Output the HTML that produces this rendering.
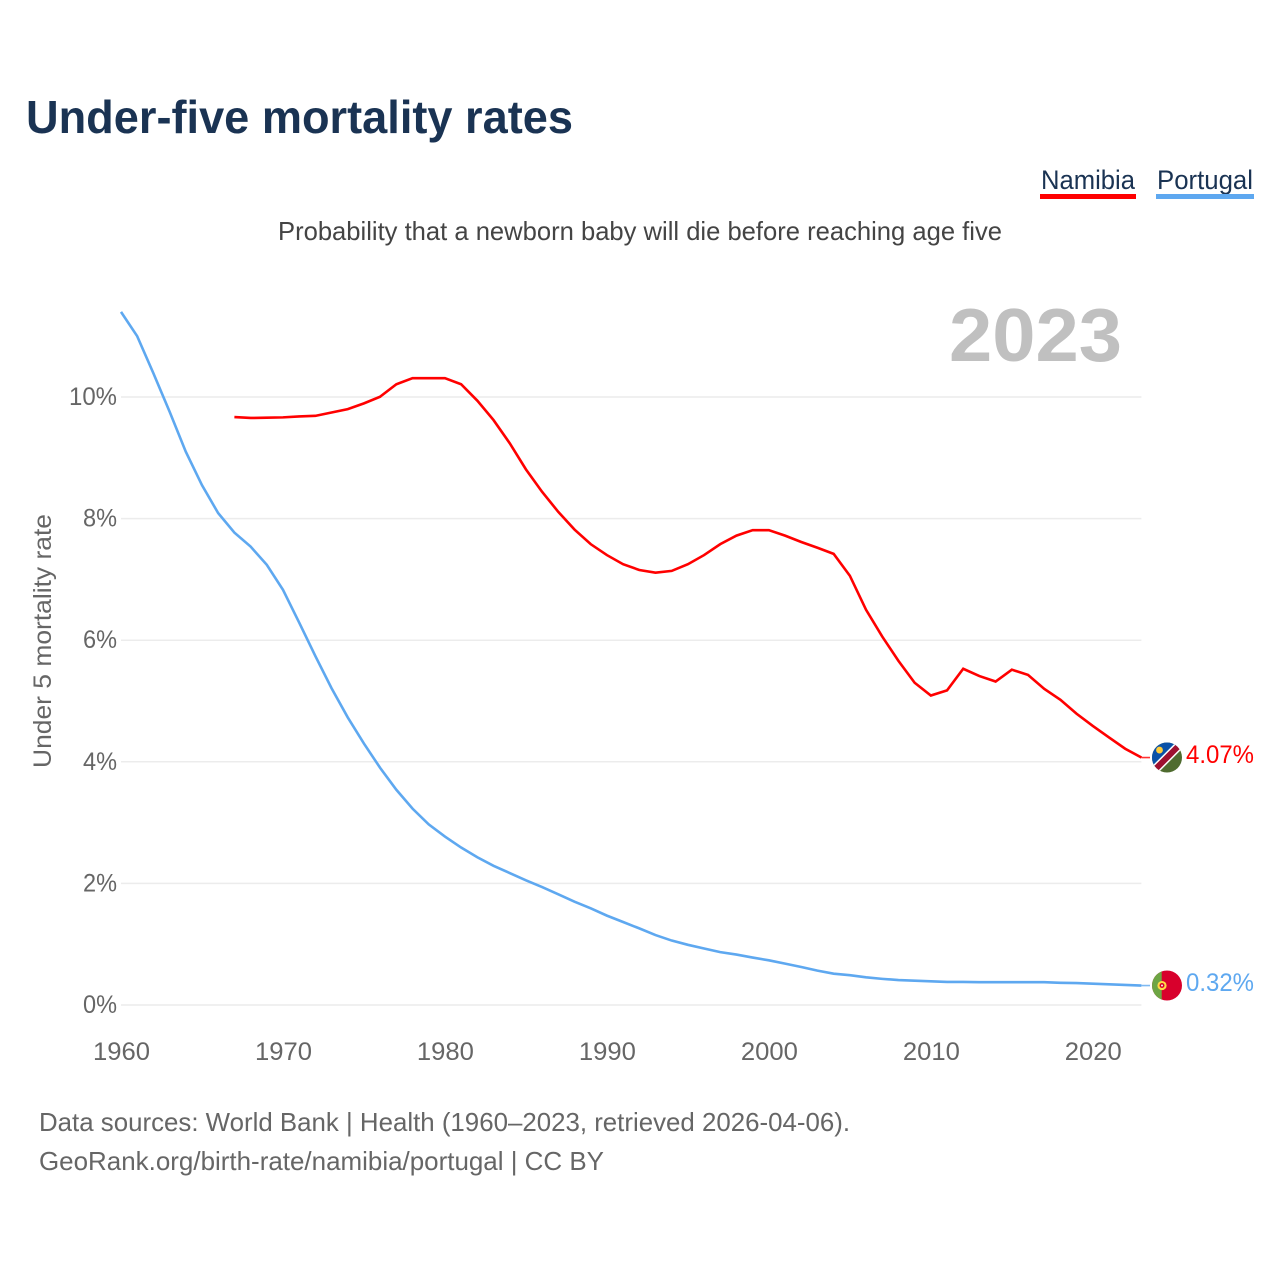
<!DOCTYPE html>
<html lang="en">
<head>
<meta charset="utf-8">
<title>Under-five mortality rates</title>
<style>
html,body{margin:0;padding:0;background:#fff;width:1280px;height:1280px;overflow:hidden}
svg{display:block;font-family:"Liberation Sans",sans-serif}
</style>
</head>
<body>
<svg id="chart" xmlns="http://www.w3.org/2000/svg" width="1280" height="1280" viewBox="0 0 1280 1280">
  <defs>
    <clipPath id="flag-clip"><circle cx="0" cy="0" r="15"/></clipPath>
  </defs>
  <text x="26" y="133" font-size="46" font-weight="700" fill="#1a3353" textLength="547" lengthAdjust="spacingAndGlyphs">Under-five mortality rates</text>

  <g>
    <g>
      <text x="1041" y="189" font-size="27" fill="#1a3353" textLength="94" lengthAdjust="spacingAndGlyphs">Namibia</text>
      <rect x="1040" y="194" width="96" height="5" fill="#ff0000"/>
    </g>
    <g>
      <text x="1157" y="189" font-size="27" fill="#1a3353" textLength="96" lengthAdjust="spacingAndGlyphs">Portugal</text>
      <rect x="1156" y="194" width="98" height="5" fill="#5ea8f0"/>
    </g>
  </g>

  <text x="278" y="240" font-size="26" fill="#444444" textLength="724" lengthAdjust="spacingAndGlyphs">Probability that a newborn baby will die before reaching age five</text>
  <text x="949" y="361" font-size="75" font-weight="700" fill="#c0c0c0" textLength="173" lengthAdjust="spacingAndGlyphs">2023</text>
  <text transform="translate(51 768) rotate(-90)" x="0" y="0" font-size="25" fill="#666666" textLength="254" lengthAdjust="spacingAndGlyphs">Under 5 mortality rate</text>

  <g id="grid"></g>
  <g id="yticks"></g>
  <g id="xticks"></g>
  <g id="series"></g>

  <g id="flag-namibia">
    <g clip-path="url(#flag-clip)">
      <rect x="-15" y="-15" width="30" height="30" fill="#4f6b2f"/>
      <polygon points="-16,-16 16,-16 -16,16" fill="#0a52a8"/>
      <line x1="-15" y1="15" x2="15" y2="-15" stroke="#ffffff" stroke-width="9"/>
      <line x1="-15" y1="15" x2="15" y2="-15" stroke="#9e1030" stroke-width="6"/>
      <circle cx="-7.5" cy="-7.5" r="3.4" fill="#ffcd3c"/>
    </g>
  </g>
  <g id="flag-portugal">
    <g clip-path="url(#flag-clip)">
      <rect x="-15" y="-15" width="30" height="30" fill="#d8002c"/>
      <rect x="-15" y="-15" width="9.7" height="30" fill="#6da544"/>
      <circle cx="-5" cy="0" r="4.6" fill="#ffda44"/>
      <circle cx="-5" cy="0" r="2.5" fill="#d8002c"/>
      <circle cx="-5" cy="0" r="1" fill="#f0f0f0"/>
    </g>
  </g>
  <g id="value-labels"></g>

  <g>
    <text x="39" y="1131" font-size="26" fill="#666666" textLength="811" lengthAdjust="spacingAndGlyphs">Data sources: World Bank | Health (1960–2023, retrieved 2026-04-06).</text>
    <text x="39" y="1170" font-size="26" fill="#666666" textLength="565" lengthAdjust="spacingAndGlyphs">GeoRank.org/birth-rate/namibia/portugal | CC BY</text>
  </g>
</svg>

<script>
const years = [1960,1961,1962,1963,1964,1965,1966,1967,1968,1969,1970,1971,1972,1973,1974,1975,1976,1977,1978,1979,1980,1981,1982,1983,1984,1985,1986,1987,1988,1989,1990,1991,1992,1993,1994,1995,1996,1997,1998,1999,2000,2001,2002,2003,2004,2005,2006,2007,2008,2009,2010,2011,2012,2013,2014,2015,2016,2017,2018,2019,2020,2021,2022,2023];
const portugal = [11.40,11.00,10.39,9.76,9.10,8.55,8.09,7.77,7.54,7.24,6.83,6.29,5.74,5.21,4.73,4.30,3.90,3.54,3.23,2.97,2.77,2.59,2.43,2.29,2.17,2.05,1.94,1.82,1.70,1.59,1.47,1.365,1.26,1.15,1.06,0.99,0.93,0.87,0.83,0.78,0.735,0.68,0.625,0.565,0.515,0.49,0.455,0.43,0.41,0.40,0.39,0.38,0.38,0.375,0.375,0.375,0.375,0.375,0.365,0.36,0.35,0.34,0.33,0.32];
const namibia = [null,null,null,null,null,null,null,9.67,9.655,9.66,9.665,9.68,9.69,9.745,9.80,9.895,10.005,10.21,10.31,10.31,10.31,10.21,9.94,9.62,9.24,8.81,8.44,8.11,7.82,7.58,7.40,7.25,7.155,7.11,7.14,7.25,7.40,7.58,7.72,7.81,7.81,7.72,7.615,7.52,7.42,7.06,6.50,6.06,5.66,5.30,5.09,5.175,5.53,5.41,5.32,5.515,5.43,5.20,5.02,4.79,4.59,4.40,4.215,4.07];
const yTicks = [0,2,4,6,8,10];
const xTicks = [1960,1970,1980,1990,2000,2010,2020];

const NS = 'http://www.w3.org/2000/svg';
const plotLeft = 121, plotRight = 1141.4, plotZero = 1005, plotTen = 397;
function xScale(year){ return plotLeft + (year - years[0]) * (plotRight - plotLeft) / (years[years.length - 1] - years[0]); }
function yScale(v){ return plotZero + v * (plotTen - plotZero) / 10; }
function make(tag, parent){ const el = document.createElementNS(NS, tag); parent.appendChild(el); return el; }

const gridG = document.getElementById('grid');
const yG = document.getElementById('yticks');
const xG = document.getElementById('xticks');
const seriesG = document.getElementById('series');
const labelsG = document.getElementById('value-labels');

yTicks.forEach(function(t){
  const line = make('line', gridG);
  
  
  line.setAttribute('x1', plotLeft);
  line.setAttribute('x2', plotRight);
  line.setAttribute('y1', yScale(t));
  line.setAttribute('y2', yScale(t));
  line.setAttribute('stroke', '#ececec');
  line.setAttribute('stroke-width', '1.5');
  const label = make('text', yG);
  
  
  label.setAttribute('x', 117);
  label.setAttribute('y', yScale(t) + 8);
  label.setAttribute('text-anchor', 'end');
  label.setAttribute('font-size', '25');
  label.setAttribute('fill', '#666666');
  label.setAttribute('textLength', t >= 10 ? 48 : 34);
  label.setAttribute('lengthAdjust', 'spacingAndGlyphs');
  label.textContent = t + '%';
});

xTicks.forEach(function(t){
  const label = make('text', xG);
  
  
  label.setAttribute('x', xScale(t) + 0.5);
  label.setAttribute('y', 1060);
  label.setAttribute('text-anchor', 'middle');
  label.setAttribute('font-size', '25');
  label.setAttribute('fill', '#666666');
  label.setAttribute('textLength', 57);
  label.setAttribute('lengthAdjust', 'spacingAndGlyphs');
  label.textContent = t;
});

function pathFor(values){
  let d = '';
  values.forEach(function(v, i){
    if (v === null) return;
    d += (d ? 'L' : 'M') + xScale(years[i]).toFixed(2) + ' ' + yScale(v).toFixed(2);
  });
  return d;
}

const portugalLine = make('path', seriesG);


portugalLine.setAttribute('d', pathFor(portugal));
portugalLine.setAttribute('fill', 'none');
portugalLine.setAttribute('stroke', '#5ea8f0');
portugalLine.setAttribute('stroke-width', '2.6');

const namibiaLine = make('path', seriesG);


namibiaLine.setAttribute('d', pathFor(namibia));
namibiaLine.setAttribute('fill', 'none');
namibiaLine.setAttribute('stroke', '#ff0000');
namibiaLine.setAttribute('stroke-width', '2.6');

const lastPortugal = portugal[portugal.length - 1];
const lastNamibia = namibia[namibia.length - 1];

const portugalLead = make('line', seriesG);


portugalLead.setAttribute('x1', plotRight);
portugalLead.setAttribute('x2', 1150);
portugalLead.setAttribute('y1', yScale(lastPortugal));
portugalLead.setAttribute('y2', yScale(lastPortugal));
portugalLead.setAttribute('stroke', '#5ea8f0');
portugalLead.setAttribute('stroke-width', '1.6');
portugalLead.setAttribute('opacity', '0.8');

const namibiaLead = make('line', seriesG);


namibiaLead.setAttribute('x1', plotRight);
namibiaLead.setAttribute('x2', 1150);
namibiaLead.setAttribute('y1', yScale(lastNamibia));
namibiaLead.setAttribute('y2', yScale(lastNamibia));
namibiaLead.setAttribute('stroke', '#ff0000');
namibiaLead.setAttribute('stroke-width', '1.6');
namibiaLead.setAttribute('opacity', '0.8');

document.getElementById('flag-namibia').setAttribute('transform', 'translate(1167 ' + yScale(lastNamibia) + ')');
document.getElementById('flag-portugal').setAttribute('transform', 'translate(1167 ' + yScale(lastPortugal) + ')');

const namibiaValue = make('text', labelsG);


namibiaValue.setAttribute('x', 1186);
namibiaValue.setAttribute('y', yScale(lastNamibia) + 5.5);
namibiaValue.setAttribute('font-size', '25');
namibiaValue.setAttribute('fill', '#ff0000');
namibiaValue.setAttribute('textLength', 68);
namibiaValue.setAttribute('lengthAdjust', 'spacingAndGlyphs');
namibiaValue.textContent = lastNamibia.toFixed(2) + '%';

const portugalValue = make('text', labelsG);


portugalValue.setAttribute('x', 1186);
portugalValue.setAttribute('y', yScale(lastPortugal) + 5.5);
portugalValue.setAttribute('font-size', '25');
portugalValue.setAttribute('fill', '#5ea8f0');
portugalValue.setAttribute('textLength', 68);
portugalValue.setAttribute('lengthAdjust', 'spacingAndGlyphs');
portugalValue.textContent = lastPortugal.toFixed(2) + '%';
</script>
</body>
</html>
